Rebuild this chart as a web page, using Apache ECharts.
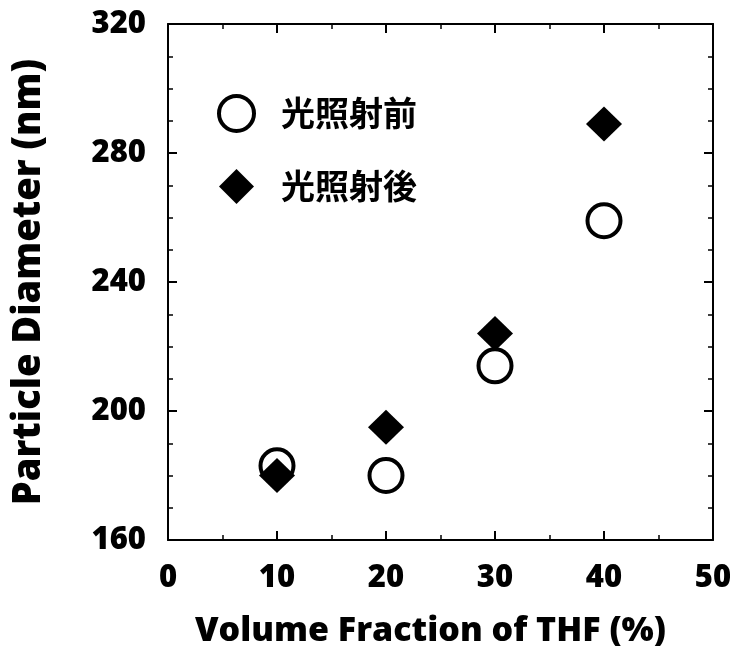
<!DOCTYPE html>
<html><head><meta charset="utf-8">
<script src="https://cdn.jsdelivr.net/npm/echarts@6/dist/echarts.min.js"></script>
<style>html,body{margin:0;padding:0;background:#fff}#c{width:730px;height:646px}</style>
</head><body><div id="c"></div>
<script>
const thf = [10, 20, 30, 40];
const beforeVals = [183, 180, 214, 259];
const afterVals = [180, 195, 224, 289];
const seriesNames = ['光照射前', '光照射後'];
const xTitle = 'Volume Fraction of THF (%)';
const yTitle = 'Particle Diameter (nm)';

const chart = echarts.init(document.getElementById('c'), null, {renderer: 'canvas'});
const font = 'Open Sans';
const fw = 800;
const lineC = '#000';
function axisBase(show) {
  return {
    axisLine: {show: true, onZero: false, lineStyle: {color: lineC, width: 2}},
    axisTick: {show: true, inside: true, length: 9, lineStyle: {color: lineC, width: 2}},
    minorTick: {show: true, length: 5, lineStyle: {color: lineC, width: 1.5}},
    splitLine: {show: false},
    axisLabel: {show: show, color: '#000', fontFamily: font, fontWeight: fw, fontSize: 31}
  };
}
chart.setOption({
  backgroundColor: '#fff',
  animation: false,
  grid: {left: 168, right: 17, top: 24, bottom: 106, outerBoundsMode: 'none', containLabel: false},
  legend: {
    orient: 'vertical', left: 212, top: 89, itemGap: 36,
    itemWidth: 35, itemHeight: 35,
    itemStyle: {borderWidth: 4},
    textStyle: {fontFamily: 'Noto Sans CJK JP', fontWeight: 'bold', fontSize: 34, color: '#000', padding: [0, 0, 0, 22]},
    data: seriesNames
  },
  xAxis: [
    Object.assign(axisBase(true), {type: 'value', min: 0, max: 50, interval: 10,
      minorTick: {show: true, splitNumber: 2, length: 5, lineStyle: {color: lineC, width: 1.5}},
      name: xTitle, nameLocation: 'middle', nameGap: 74,
      nameTextStyle: {fontFamily: font, fontWeight: fw, fontSize: 34, color: '#000', padding: [0, 20, 0, 0]},
      axisLabel: {color: '#000', fontFamily: font, fontWeight: fw, fontSize: 31, margin: 23}}),
    Object.assign(axisBase(false), {type: 'value', position: 'top', min: 0, max: 50, interval: 10,
      minorTick: {show: true, splitNumber: 2, length: 5, lineStyle: {color: lineC, width: 1.5}}})
  ],
  yAxis: [
    Object.assign(axisBase(true), {type: 'value', min: 160, max: 320, interval: 40,
      minorTick: {show: true, splitNumber: 4, length: 5, lineStyle: {color: lineC, width: 1.5}},
      name: yTitle, nameLocation: 'middle', nameGap: 120,
      nameTextStyle: {fontFamily: font, fontWeight: fw, fontSize: 38, color: '#000'},
      axisLabel: {color: '#000', fontFamily: font, fontWeight: fw, fontSize: 31, margin: 22}}),
    Object.assign(axisBase(false), {type: 'value', position: 'right', min: 160, max: 320, interval: 40,
      minorTick: {show: true, splitNumber: 4, length: 5, lineStyle: {color: lineC, width: 1.5}}})
  ],
  series: [
    {name: seriesNames[0], type: 'scatter', symbol: 'circle', symbolSize: 33,
     itemStyle: {color: '#fff', borderColor: '#000', borderWidth: 4, opacity: 1},
     data: thf.map((x, i) => [x, beforeVals[i]]), z: 2},
    {name: seriesNames[1], type: 'scatter', symbol: 'diamond', symbolSize: [36, 35],
     itemStyle: {color: '#000', opacity: 1},
     data: thf.map((x, i) => [x, afterVals[i]]), z: 3}
  ]
});
</script></body></html>
